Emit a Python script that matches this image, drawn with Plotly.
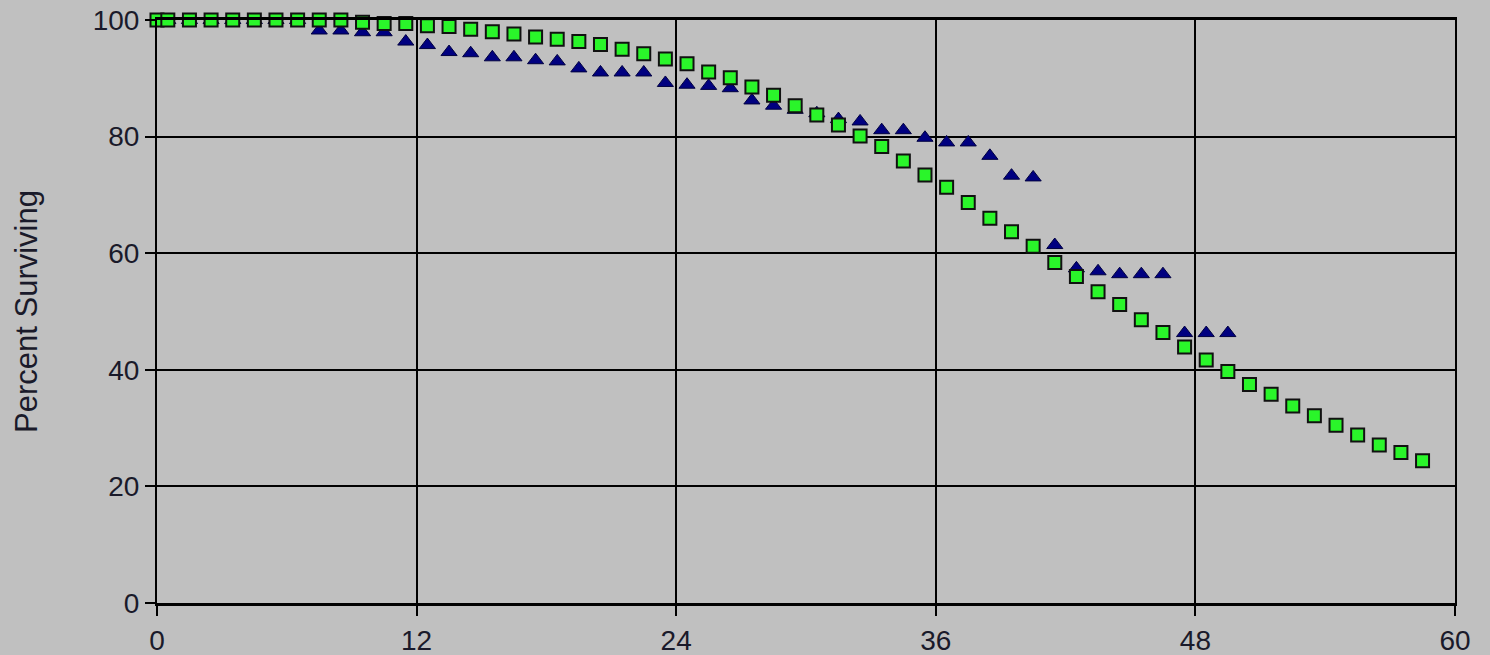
import plotly.graph_objects as go

# Months (mid-month sample points)
sq_x = [0, 0.5] + [i + 0.5 for i in range(1, 59)]
sq_y = [100, 100, 100, 100, 100, 100, 100, 100, 100, 100, 99.6, 99.4, 99.4, 99.0, 98.9, 98.4,
        98.0, 97.6, 97.1, 96.7, 96.3, 95.8, 95.0, 94.2, 93.3, 92.5, 91.1, 90.1, 88.5, 87.1,
        85.3, 83.7, 82.0, 80.1, 78.3, 75.8, 73.4, 71.3, 68.7, 66.0, 63.7, 61.2, 58.4, 56.0,
        53.4, 51.2, 48.6, 46.4, 43.9, 41.7, 39.7, 37.5, 35.8, 33.8, 32.1, 30.5, 28.8, 27.1,
        25.8, 24.4]

tri_x = [i + 0.5 for i in range(0, 50)]
tri_y = [100, 100, 100, 100, 100, 100, 100, 98.2, 98.2, 97.9, 97.9, 96.3, 95.7, 94.5, 94.3,
         93.6, 93.6, 93.1, 92.9, 91.7, 91.0, 91.0, 91.0, 89.2, 88.9, 88.7, 88.3, 86.2, 85.3,
         84.6, 84.0, 83.0, 82.6, 81.1, 81.1, 79.8, 79.0, 79.0, 76.7, 73.3, 73.0, 61.4, 57.4,
         56.9, 56.4, 56.4, 56.4, 46.3, 46.3, 46.3]

x_ticks = [0, 12, 24, 36, 48, 60]
y_ticks = [0, 20, 40, 60, 80, 100]

fig = go.Figure()
fig.add_trace(go.Scatter(
    x=tri_x, y=tri_y, mode="markers", cliponaxis=False,
    marker=dict(symbol="triangle-up", size=14, color="#000080",
                line=dict(color="#000040", width=1)),
    showlegend=False))
fig.add_trace(go.Scatter(
    x=sq_x, y=sq_y, mode="markers", cliponaxis=False,
    marker=dict(symbol="square", size=13, color="#2af52a",
                line=dict(color="#111111", width=2)),
    showlegend=False))

font_family = "Liberation Sans, Arial, sans-serif"
fig.update_layout(
    width=1490, height=655,
    margin=dict(l=157, r=35, t=20, b=52, autoexpand=False),
    paper_bgcolor="#c0c0c0", plot_bgcolor="#c0c0c0",
    font=dict(family=font_family, size=28, color="#1a1a2a"),
    xaxis=dict(range=[0, 60], tickvals=x_ticks, ticktext=[str(v) for v in x_ticks],
               showgrid=True, gridcolor="#000000", gridwidth=2,
               showline=True, linecolor="#000000", linewidth=3, mirror=True,
               ticks="outside", ticklen=10, tickcolor="#000000", tickwidth=1.5,
               zeroline=False, fixedrange=True, automargin=False),
    yaxis=dict(range=[0, 100], tickvals=y_ticks, ticktext=[str(v) for v in y_ticks],
               showgrid=True, gridcolor="#000000", gridwidth=2,
               showline=True, linecolor="#000000", linewidth=2, mirror=True,
               ticks="outside", ticklen=10, tickcolor="#000000", tickwidth=1.5,
               zeroline=False, fixedrange=True, automargin=False,
               title=dict(text="Percent Surviving", font=dict(size=31), standoff=46)),
)

fig.write_html("out.html", config={"displayModeBar": False},
               post_script="document.body.style.margin='0';document.body.style.background='#c0c0c0';")
